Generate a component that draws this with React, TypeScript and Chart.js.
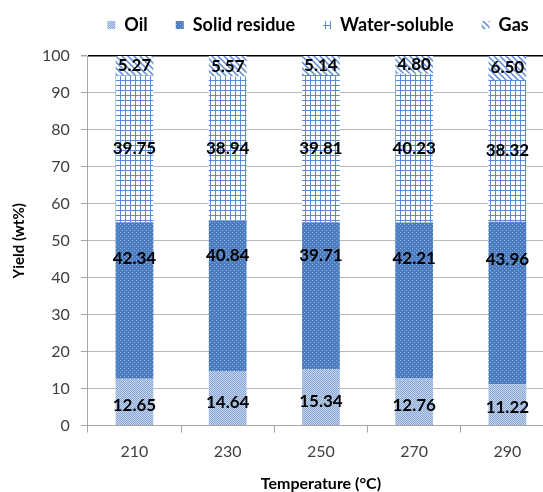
import React, { useEffect, useRef } from "react";
import { Chart, registerables } from "chart.js";

Chart.register(...registerables);

const categories = ["210", "230", "250", "270", "290"];
const oil = [12.65, 14.64, 15.34, 12.76, 11.22];
const solidResidue = [42.34, 40.84, 39.71, 42.21, 43.96];
const waterSoluble = [39.75, 38.94, 39.81, 40.23, 38.32];
const gas = [5.27, 5.57, 5.14, 4.8, 6.5];
const seriesNames = ["Oil", "Solid residue", "Water-soluble", "Gas"];
const yTicks = [0, 10, 20, 30, 40, 50, 60, 70, 80, 90, 100];

function makeTile(size: number, draw: (c: CanvasRenderingContext2D) => void) {
  const cv = document.createElement("canvas");
  cv.width = size;
  cv.height = size;
  const c = cv.getContext("2d")!;
  draw(c);
  return c.createPattern(cv, "repeat")!;
}

function patterns() {
  const oilP = makeTile(2, (c) => {
    c.fillStyle = "#c3d4ec";
    c.fillRect(0, 0, 2, 2);
    c.fillStyle = "#89a8d6";
    c.fillRect(0, 0, 1, 1);
    c.fillRect(1, 1, 1, 1);
  });
  const solidP = makeTile(4, (c) => {
    c.fillStyle = "#4a7cbf";
    c.fillRect(0, 0, 4, 4);
    c.fillStyle = "#8fb0dc";
    c.fillRect(0, 0, 1, 1);
    c.fillRect(2, 2, 1, 1);
  });
  const waterP = makeTile(5, (c) => {
    c.fillStyle = "#ffffff";
    c.fillRect(0, 0, 5, 5);
    c.fillStyle = "#5b8ad0";
    c.fillRect(0, 0, 5, 1);
    c.fillRect(0, 0, 1, 5);
  });
  const gasP = makeTile(6, (c) => {
    c.fillStyle = "#ffffff";
    c.fillRect(0, 0, 6, 6);
    c.strokeStyle = "#5b8ad0";
    c.lineWidth = 1.5;
    c.beginPath();
    c.moveTo(-1, -1);
    c.lineTo(7, 7);
    c.moveTo(-4, 2);
    c.lineTo(2, 8);
    c.moveTo(2, -4);
    c.lineTo(8, 2);
    c.stroke();
  });
  return [oilP, solidP, waterP, gasP];
}

const labelFractions = [0.42, 0.77, 0.5, 0.5];

const dataLabelPlugin = {
  id: "segLabels",
  afterDatasetsDraw(chart: any) {
    const ctx = chart.ctx;
    ctx.save();
    ctx.font = "bold 17px Lato";
    ctx.fillStyle = "#000";
    ctx.textAlign = "center";
    ctx.textBaseline = "middle";
    chart.data.datasets.forEach((ds: any, di: number) => {
      const meta = chart.getDatasetMeta(di);
      meta.data.forEach((el: any, i: number) => {
        const v = ds.data[i] as number;
        const f = labelFractions[di];
        const y = el.base + (el.y - el.base) * f;
        ctx.fillText(v.toFixed(2), el.x, y);
      });
    });
    ctx.restore();
  },
};

// Legend placement tweaks: shift the legend row right and lift it up
const LEGEND_SHIFT_X = 36;
const LEGEND_TOP = -12;
const legendPlacer = {
  id: "legendPlacer",
  afterLayout(chart: any) {
    const lg = chart.legend;
    if (!lg) return;
    const h = lg.height;
    lg.left += LEGEND_SHIFT_X;
    lg.right += LEGEND_SHIFT_X;
    lg.top = LEGEND_TOP;
    lg.bottom = LEGEND_TOP + h;
  },
};

export default function App() {
  const ref = useRef<HTMLCanvasElement>(null);
  useEffect(() => {
    document.body.style.margin = "0";
    const [oilP, solidP, waterP, gasP] = patterns();
    const series = [oil, solidResidue, waterSoluble, gas];
    const fills = [oilP, solidP, waterP, gasP];
    const chart = new Chart(ref.current!, {
      type: "bar",
      data: {
        labels: categories,
        datasets: series.map((d, i) => ({
          label: seriesNames[i],
          data: d,
          backgroundColor: fills[i] as any,
          borderWidth: 0,
          barPercentage: 0.81,
          categoryPercentage: 0.5,
        })),
      },
      options: {
        animation: false,
        responsive: false,
        maintainAspectRatio: false,
        layout: { padding: { left: 10, right: 8, top: 0, bottom: -1 } },
        plugins: {
          tooltip: { enabled: false },
          legend: {
            position: "top",
            align: "center",
            labels: {
              boxWidth: 8,
              boxHeight: 8,
              padding: 28,
              color: "#000",
              font: { family: "Lato", size: 18, weight: "bold" },
            },
          },
        },
        scales: {
          x: {
            stacked: true,
            offset: true,
            grid: {
              offset: true,
              drawOnChartArea: false,
              drawTicks: true,
              tickLength: 7,
              color: "#a6a6a6",
            },
            border: { color: "#a6a6a6" },
            ticks: { color: "#404040", font: { family: "Lato", size: 16 }, padding: 10 },
            title: {
              display: true,
              text: "Temperature (°C)",
              color: "#000",
              font: { family: "Lato", size: 16, weight: "bold" },
              padding: { top: 2, bottom: 0 },
            },
          },
          y: {
            stacked: true,
            min: 0,
            max: 100,
            afterBuildTicks: (axis: any) => {
              axis.ticks = yTicks.map((v) => ({ value: v }));
            },
            grid: {
              color: (c: any) => (c.tick && c.tick.value === 100 ? "#000" : "#b8b8b8"),
              lineWidth: (c: any) => (c.tick && c.tick.value === 100 ? 1.5 : 1),
              tickColor: "#a6a6a6",
              tickLength: 7,
            },
            border: { color: "#a6a6a6" },
            ticks: { color: "#404040", font: { family: "Lato", size: 16 }, padding: 11 },
            title: {
              display: true,
              text: "Yield (wt%)",
              color: "#000",
              font: { family: "Lato", size: 15, weight: "bold" },
              padding: { top: 0, bottom: 3 },
            },
          },
        },
      },
      plugins: [dataLabelPlugin, legendPlacer],
    });
    return () => chart.destroy();
  }, []);
  return (
    <div style={{ width: 543, height: 492, overflow: "hidden", background: "#fff" }}>
      <canvas ref={ref} width={562} height={492} style={{ display: "block" }} />
    </div>
  );
}
